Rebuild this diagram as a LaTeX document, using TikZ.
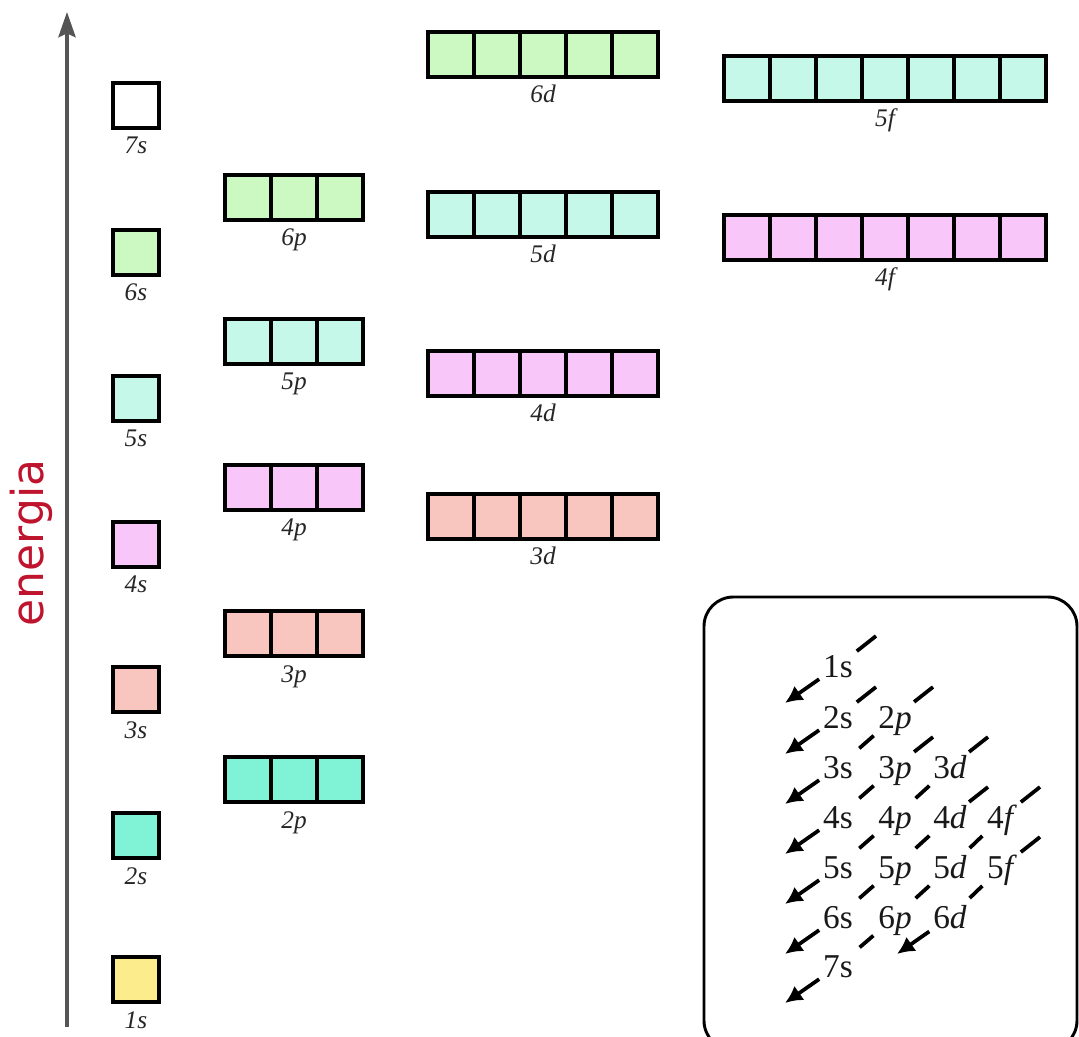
\documentclass[tikz,border=0pt]{standalone}
\usepackage{fontspec}
\newfontfamily\enfont{DejaVu Sans}
\newfontfamily\lbfont{Liberation Serif}
\usetikzlibrary{arrows.meta,calc}
\definecolor{c1}{RGB}{252,236,140}
\definecolor{c2}{RGB}{128,242,214}
\definecolor{c3}{RGB}{248,198,190}
\definecolor{c4}{RGB}{248,198,248}
\definecolor{c5}{RGB}{198,248,234}
\definecolor{c6}{RGB}{204,248,194}
\definecolor{c7}{RGB}{255,255,255}
\definecolor{axisgray}{RGB}{85,85,85}
\definecolor{enred}{RGB}{190,20,45}
\tikzset{
  cellbox/.style={draw=black, line width=2.4pt},
  boxlabel/.style={anchor=base, inner sep=1pt, text=black!85, font=\lbfont\fontsize{19}{22}\selectfont\itshape},
  ilab/.style={text=black!90, font=\lbfont\fontsize{25}{28}\selectfont, text height=17pt, text depth=0pt, inner sep=2pt},
  dl/.style={line width=2.8pt},
  dmid/.style={dl, shorten <=5pt, shorten >=5pt},
  dstart/.style={dl, shorten >=1pt},
  darr/.style={dl, shorten <=1pt, -{Latex[length=13pt,width=13pt]}}
}
\newcommand\orbrow[6]{%
  \foreach \k in {1,...,#3} {
    \draw[cellbox, fill=#4] ({#1+46*(\k-1)},#2) rectangle ++(46,45);
  }
  \node[boxlabel] (#6) at ({#1+23*#3},{#2+71}) {#5};
}
\begin{document}
\begin{tikzpicture}[x=0.75pt,y=-0.75pt]
\useasboundingbox (0,0) rectangle (1079,1037);
\begin{scope}
\clip (0,0) rectangle (1079,1037);
% energy axis
\coordinate (ax0) at (67,1027);
\coordinate (ax1) at (67,12);
\draw[axisgray, line width=2.4pt, -{Stealth[length=19pt,width=13pt,inset=3pt]}] (ax0) -- (ax1);
\node[rotate=90, text=enred, font=\enfont\fontsize{33}{36}\selectfont] (en) at (31,543) {energia};
% orbitals
\orbrow{113}{83}{1}{c7}{7s}{b7s}
\orbrow{113}{230}{1}{c6}{6s}{b6s}
\orbrow{113}{376}{1}{c5}{5s}{b5s}
\orbrow{113}{522}{1}{c4}{4s}{b4s}
\orbrow{113}{667}{1}{c3}{3s}{b3s}
\orbrow{113}{813}{1}{c2}{2s}{b2s}
\orbrow{113}{957}{1}{c1}{1s}{b1s}
\orbrow{225}{175}{3}{c6}{6p}{b6p}
\orbrow{225}{319}{3}{c5}{5p}{b5p}
\orbrow{225}{465}{3}{c4}{4p}{b4p}
\orbrow{225}{611}{3}{c3}{3p}{b3p}
\orbrow{225}{757}{3}{c2}{2p}{b2p}
\orbrow{428}{32}{5}{c6}{6d}{b6d}
\orbrow{428}{192}{5}{c5}{5d}{b5d}
\orbrow{428}{351}{5}{c4}{4d}{b4d}
\orbrow{428}{494}{5}{c3}{3d}{b3d}
\orbrow{724}{56}{7}{c5}{5f}{b5f}
\orbrow{724}{215}{7}{c4}{4f}{b4f}
% inset box
\draw[line width=2.2pt, rounded corners=22pt] (704,597) rectangle (1077,1050);
% inset labels
\node[ilab] (i1s) at (838,666) {1s};
\node[ilab] (i2s) at (838,717) {2s};
\node[ilab] (i2p) at (895,717) {2\textit{p}};
\node[ilab] (i3s) at (838,767) {3s};
\node[ilab] (i3p) at (895,767) {3\textit{p}};
\node[ilab] (i3d) at (950,767) {3\textit{d}};
\node[ilab] (i4s) at (838,817) {4s};
\node[ilab] (i4p) at (895,817) {4\textit{p}};
\node[ilab] (i4d) at (950,817) {4\textit{d}};
\node[ilab] (i4f) at (1002,817) {4\textit{f}};
\node[ilab] (i5s) at (838,867) {5s};
\node[ilab] (i5p) at (895,867) {5\textit{p}};
\node[ilab] (i5d) at (950,867) {5\textit{d}};
\node[ilab] (i5f) at (1002,867) {5\textit{f}};
\node[ilab] (i6s) at (838,917) {6s};
\node[ilab] (i6p) at (895,917) {6\textit{p}};
\node[ilab] (i6d) at (950,917) {6\textit{d}};
\node[ilab] (i7s) at (838,966) {7s};
% start and end points of the diagonals
\foreach \a/\b/\n in {i1s/i1s/1, i2s/i2s/2, i2p/i3s/3, i3p/i4s/4, i3d/i5s/5, i4d/i6s/6, i4f/i7s/7, i5f/i6d/8} {
  \coordinate (s\n) at ($(\a)+(38,-30)$);
  \coordinate (e\n) at ($(\b)+(-53,37)$);
}
% diagonals
\draw[dstart] (s1) -- (i1s); \draw[darr] (i1s) -- (e1);
\draw[dstart] (s2) -- (i2s); \draw[darr] (i2s) -- (e2);
\draw[dstart] (s3) -- (i2p); \draw[dmid] (i2p) -- (i3s); \draw[darr] (i3s) -- (e3);
\draw[dstart] (s4) -- (i3p); \draw[dmid] (i3p) -- (i4s); \draw[darr] (i4s) -- (e4);
\draw[dstart] (s5) -- (i3d); \draw[dmid] (i3d) -- (i4p); \draw[dmid] (i4p) -- (i5s); \draw[darr] (i5s) -- (e5);
\draw[dstart] (s6) -- (i4d); \draw[dmid] (i4d) -- (i5p); \draw[dmid] (i5p) -- (i6s); \draw[darr] (i6s) -- (e6);
\draw[dstart] (s7) -- (i4f); \draw[dmid] (i4f) -- (i5d); \draw[dmid] (i5d) -- (i6p); \draw[dmid] (i6p) -- (i7s); \draw[darr] (i7s) -- (e7);
\draw[dstart] (s8) -- (i5f); \draw[dmid] (i5f) -- (i6d); \draw[darr] (i6d) -- (e8);
\end{scope}
\end{tikzpicture}
\end{document}
